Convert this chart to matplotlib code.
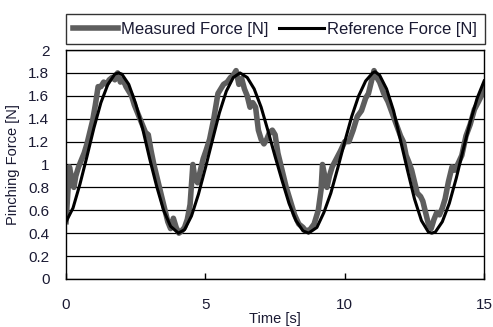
import numpy as np
import matplotlib
matplotlib.use("Agg")
import matplotlib.pyplot as plt

plt.rcParams['font.family'] = ['Liberation Sans', 'DejaVu Sans']

# reference force (black)
t_ref = [0.0, 0.25, 0.5, 0.75, 1.0, 1.25, 1.5, 1.75, 1.88, 2.0, 2.25, 2.5, 2.75, 3.0, 3.25,
         3.5, 3.75, 4.03, 4.25, 4.5, 4.75, 5.0, 5.25, 5.5, 5.75, 6.0, 6.24, 6.5, 6.75, 7.0,
         7.25, 7.5, 7.75, 8.0, 8.25, 8.5, 8.7, 9.0, 9.25, 9.5, 9.75, 10.0, 10.25, 10.5,
         10.75, 11.0, 11.09, 11.25, 11.5, 11.75, 12.0, 12.25, 12.5, 12.75, 13.0, 13.12,
         13.25, 13.5, 13.75, 14.0, 14.25, 14.5, 14.75, 15.0]
f_ref = [0.50, 0.62, 0.83, 1.07, 1.32, 1.54, 1.70, 1.79, 1.80, 1.79, 1.70, 1.53, 1.31, 1.05, 0.81,
         0.60, 0.46, 0.40, 0.43, 0.55, 0.74, 0.97, 1.21, 1.45, 1.64, 1.76, 1.80, 1.76, 1.66, 1.50,
         1.29, 1.07, 0.86, 0.66, 0.51, 0.42, 0.40, 0.45, 0.58, 0.75, 0.97, 1.20, 1.42, 1.60,
         1.73, 1.80, 1.81, 1.78, 1.66, 1.47, 1.21, 0.95, 0.70, 0.51, 0.41, 0.40,
         0.41, 0.50, 0.66, 0.88, 1.13, 1.37, 1.58, 1.73]

# measured force (grey)
t_meas = [0.00, 0.05, 0.12, 0.20, 0.28, 0.35, 0.45, 0.55, 0.65, 0.75, 0.85, 0.95, 1.05, 1.15,
          1.25, 1.35, 1.45, 1.55, 1.65, 1.75, 1.85, 1.95, 2.05, 2.15, 2.25, 2.35, 2.45, 2.55,
          2.65, 2.75, 2.85, 2.95, 3.05, 3.15, 3.25, 3.35, 3.45, 3.55, 3.65, 3.75, 3.85, 3.95,
          4.05, 4.15, 4.25, 4.35, 4.45, 4.55, 4.62, 4.72, 4.82, 4.92, 5.02, 5.15, 5.30, 5.45,
          5.55, 5.65, 5.78, 5.90, 6.00, 6.10, 6.20, 6.30, 6.40, 6.50, 6.60, 6.70, 6.80, 6.90,
          7.00, 7.10, 7.20, 7.30, 7.40, 7.50, 7.60, 7.75, 7.90, 8.05, 8.20, 8.35, 8.50, 8.60,
          8.75, 8.90, 9.05, 9.15, 9.20, 9.28, 9.36, 9.45, 9.55, 9.70, 9.85, 10.00, 10.15, 10.30,
          10.45, 10.60, 10.75, 10.85, 10.95, 11.05, 11.15, 11.25, 11.40, 11.55, 11.70, 11.85,
          12.00, 12.10, 12.20, 12.30, 12.40, 12.50, 12.60, 12.72, 12.80, 12.90, 13.00, 13.10,
          13.20, 13.30, 13.40, 13.50, 13.60, 13.72, 13.85, 13.95, 14.05, 14.20, 14.35, 14.50,
          14.65, 14.80, 14.90, 15.00]
f_meas = [0.50, 0.70, 0.98, 0.88, 0.80, 0.90, 0.98, 1.04, 1.10, 1.18, 1.28, 1.38, 1.52, 1.68,
          1.68, 1.72, 1.70, 1.74, 1.76, 1.74, 1.80, 1.72, 1.74, 1.68, 1.64, 1.60, 1.52, 1.46,
          1.40, 1.34, 1.28, 1.26, 1.12, 1.00, 0.90, 0.80, 0.70, 0.60, 0.50, 0.44, 0.53, 0.45,
          0.40, 0.42, 0.45, 0.52, 0.65, 1.00, 0.88, 0.84, 0.95, 1.05, 1.12, 1.22, 1.40, 1.62,
          1.66, 1.70, 1.72, 1.76, 1.78, 1.82, 1.70, 1.75, 1.66, 1.60, 1.50, 1.54, 1.50, 1.30,
          1.22, 1.18, 1.22, 1.28, 1.30, 1.26, 1.10, 0.95, 0.80, 0.68, 0.56, 0.48, 0.45, 0.42,
          0.43, 0.48, 0.60, 0.78, 1.00, 0.90, 0.80, 0.90, 0.98, 1.05, 1.12, 1.20, 1.20, 1.30,
          1.42, 1.47, 1.58, 1.62, 1.72, 1.82, 1.76, 1.72, 1.62, 1.55, 1.45, 1.35,
          1.25, 1.20, 1.08, 1.02, 0.95, 0.85, 0.75, 0.72, 0.68, 0.58, 0.48, 0.44,
          0.52, 0.58, 0.56, 0.62, 0.70, 0.85, 0.98, 0.95, 1.00, 1.08, 1.25, 1.35,
          1.48, 1.55, 1.60, 1.68]

y_ticks = [0, 0.2, 0.4, 0.6, 0.8, 1.0, 1.2, 1.4, 1.6, 1.8, 2.0]
y_labels = ["0", "0.2", "0.4", "0.6", "0.8", "1", "1.2", "1.4", "1.6", "1.8", "2"]
x_ticks = [0, 5, 10, 15]

txt = '#1a1a33'

fig = plt.figure(figsize=(4.93, 3.27), dpi=100)
ax = fig.add_axes([0.134, 0.147, 0.848, 0.700])

for y in y_ticks:
    ax.axhline(y, color='black', lw=0.9, zorder=1)

ax.plot(t_meas, f_meas, color='#5e5e5e', lw=4.0, solid_joinstyle='round',
        label='Measured Force [N]', zorder=2)
ax.plot(t_ref, f_ref, color='black', lw=2.2, label='Reference Force [N]', zorder=3)

ax.set_xlim(0, 15)
ax.set_ylim(0, 2)
ax.set_xticks(x_ticks)
ax.set_xticklabels([str(x) for x in x_ticks])
ax.set_yticks(y_ticks)
ax.set_yticklabels(y_labels)
ax.tick_params(axis='x', direction='in', length=4, width=1, pad=14,
               labelsize=11, labelcolor=txt)
ax.tick_params(axis='y', length=0, pad=12, labelsize=11, labelcolor=txt)
for s in ax.spines.values():
    s.set_color('black')
    s.set_linewidth(1.0)

ax.set_xlabel('Time [s]', fontsize=10.5, color=txt, labelpad=0)
ax.set_ylabel('Pinching Force [N]', fontsize=10.5, color=txt, labelpad=6)

leg = ax.legend(loc='lower center', bbox_to_anchor=(0.5, 1.025),
                ncol=2, frameon=True, fancybox=False, fontsize=12, handlelength=2.7,
                handletextpad=0.2, columnspacing=0.6, borderaxespad=0.0,
                borderpad=0.45)
leg.get_frame().set_edgecolor('black')
leg.get_frame().set_linewidth(1.0)
for t in leg.get_texts():
    t.set_color(txt)

fig.savefig('out.png', dpi=100)
